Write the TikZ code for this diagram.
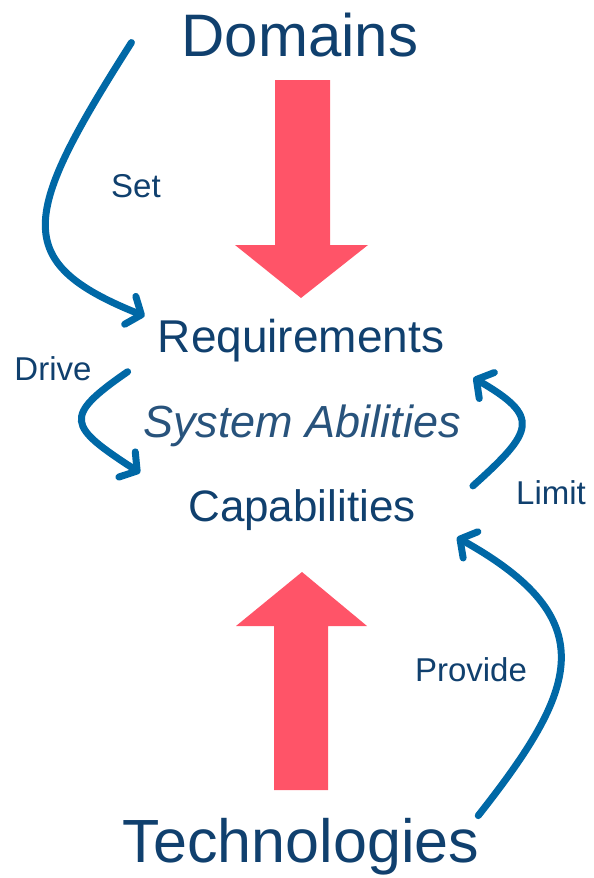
\documentclass[tikz,border=0pt]{standalone}
\usepackage{fontspec}
\setmainfont{Liberation Sans}
\usetikzlibrary{arrows.meta}
\definecolor{navy}{RGB}{16,64,110}
\definecolor{flowblue}{RGB}{0,104,166}
\definecolor{blockred}{RGB}{255,84,104}
\newcommand{\fsz}[1]{\fontsize{#1}{#1}\selectfont}

\begin{document}
\begin{tikzpicture}[x=1pt,y=-1pt,
  lbl/.style={text=navy,inner sep=0pt,anchor=base},
  flow/.style={draw=flowblue,line width=7pt,line cap=round,
    -{Straight Barb[length=12pt,width=30pt,line cap=round,line join=round]}}]
  \useasboundingbox (0,0) rectangle (594,878);

  \node[lbl,font=\fsz{60}] (dom) at (300,56) {Domains};
  \node[lbl,font=\fsz{46}] (req) at (301,352) {Requirements};
  \node[lbl,font=\fsz{45}\itshape,text=navy!90] (sys) at (302,437) {System Abilities};
  \node[lbl,font=\fsz{44}] (cap) at (302,521) {Capabilities};
  \node[lbl,font=\fsz{61}] (tech) at (301,862) {Technologies};

  \node[lbl,font=\fsz{33}] (set) at (136,197) {Set};
  \node[lbl,font=\fsz{33}] (drive) at (53,380) {Drive};
  \node[lbl,font=\fsz{33}] (limit) at (551,504) {Limit};
  \node[lbl,font=\fsz{33}] (provide) at (471,681) {Provide};

  \fill[blockred] (275,80) -- (330,80) -- (330,245) -- (368,245) -- (301,298)
    -- (235,245) -- (275,245) -- cycle;
  \fill[blockred] (274,790) -- (328,790) -- (328,626) -- (367,626) -- (302,572)
    -- (236,626) -- (274,626) -- cycle;

  \draw[flow] ([shift={(-50,8)}]dom.west) .. controls (21,216) and (10,262)
    .. ([shift={(-13,-24)}]req.west);
  \draw[flow] ([shift={(-30,10)}]req.south west) .. controls (62,417) and (68,426)
    .. ([shift={(-48,-16)}]cap.north west);
  \draw[flow] ([shift={(57,-3)}]cap.north east) .. controls (534,431) and (541,417)
    .. ([shift={(29,16)}]req.south east);
  \draw[flow] ([shift={(-1,-2)}]tech.north east) .. controls (578,689) and (605,620)
    .. ([shift={(41,7)}]cap.south east);
\end{tikzpicture}
\end{document}
